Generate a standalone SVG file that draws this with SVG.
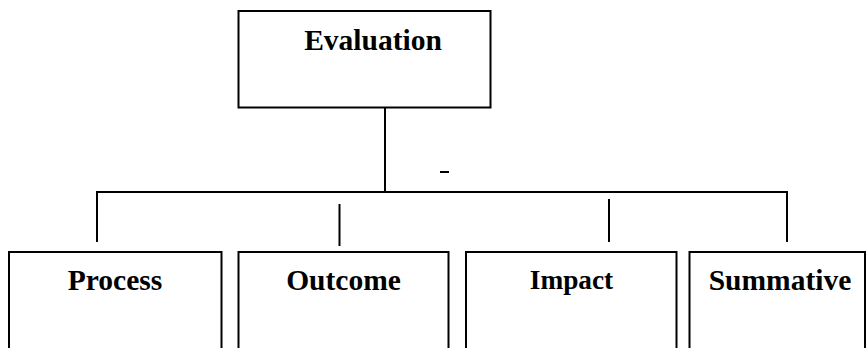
<svg xmlns="http://www.w3.org/2000/svg" width="866" height="348" viewBox="0 0 866 348">
<style>
.box{fill:#fff;stroke:#000;stroke-width:2}
.ln{stroke:#000;stroke-width:2;fill:none}
.t{font-family:"Liberation Serif","Times New Roman",serif;font-weight:bold;font-size:29.5px;text-anchor:middle;fill:#000}
</style>
<rect width="866" height="348" fill="#fff"/>
<g id="connectors">
<line class="ln" x1="385" y1="108" x2="385" y2="192"/>
<polyline class="ln" points="97,242 97,192 787,192 787,242"/>
<line class="ln" x1="339.5" y1="204" x2="339.5" y2="246"/>
<line class="ln" x1="609" y1="199" x2="609" y2="242"/>
<line class="ln" x1="440" y1="172" x2="449" y2="172"/>
</g>
<g id="evaluation">
<rect class="box" x="238.5" y="11" width="252" height="96.5"/>
<text class="t" x="373" y="50">Evaluation</text>
</g>
<g id="process">
<rect class="box" x="9" y="252" width="212.5" height="110"/>
<text class="t" x="115" y="290">Process</text>
</g>
<g id="outcome">
<rect class="box" x="238.5" y="252" width="210" height="110"/>
<text class="t" x="343.5" y="290">Outcome</text>
</g>
<g id="impact">
<rect class="box" x="466" y="252" width="210.5" height="110"/>
<text class="t" x="571.5" y="288.5" style="font-size:27.3px">Impact</text>
</g>
<g id="summative">
<rect class="box" x="689.5" y="252" width="175.5" height="110"/>
<text class="t" x="780" y="290">Summative</text>
</g>
</svg>
